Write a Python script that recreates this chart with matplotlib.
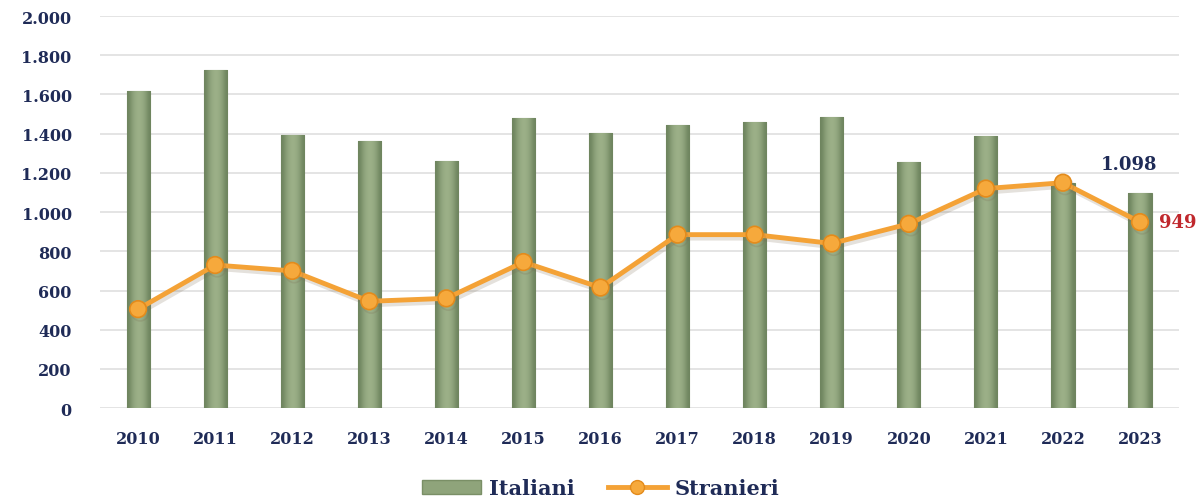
import matplotlib
matplotlib.use("Agg")
import matplotlib.pyplot as plt
import numpy as np
from matplotlib.patches import Patch
from matplotlib.lines import Line2D
import matplotlib.patheffects as pe
from matplotlib.colors import LinearSegmentedColormap

years = ["2010", "2011", "2012", "2013", "2014", "2015", "2016",
         "2017", "2018", "2019", "2020", "2021", "2022", "2023"]
italiani = [1620, 1725, 1395, 1365, 1260, 1478, 1405, 1443, 1458, 1483, 1255, 1387, 1148, 1098]
stranieri = [505, 730, 700, 545, 560, 745, 615, 885, 885, 840, 940, 1120, 1150, 949]
yticks = [0, 200, 400, 600, 800, 1000, 1200, 1400, 1600, 1800, 2000]

navy = "#1f2b57"
font = "DejaVu Serif"

fig = plt.figure(figsize=(12.02, 5.02), dpi=100)
ax = fig.add_axes([0.0828, 0.185, 0.8977, 0.781])

x = np.arange(len(years))
ax.set_xlim(-0.5, len(years) - 0.5)
ax.set_ylim(0, 2000)

for yv in yticks:
    ax.axhline(yv, color="#e2e2e2", lw=1.3, zorder=0)

bars = ax.bar(x, italiani, width=0.3, color="#8fa47b", edgecolor="#6f845f",
              lw=0.8, zorder=2)
grad = np.array([[0.0, 0.5, 0.8, 0.9, 0.8, 0.5, 0.0]])
cmap = LinearSegmentedColormap.from_list("g", ["#6e845e", "#9db189"])
for b in bars:
    bx, by = b.get_x(), b.get_y()
    w, h = b.get_width(), b.get_height()
    im = ax.imshow(grad, extent=[bx, bx + w, by, by + h], aspect="auto",
                   cmap=cmap, zorder=2, interpolation="bicubic")
    im.set_clip_path(b)

ax.plot(x, stranieri, color="#f4a236", lw=3.5, marker="o", ms=12,
        mfc="#f6a93c", mec="#e38b1c", mew=1.2, zorder=4, clip_on=False,
        path_effects=[pe.SimpleLineShadow(offset=(1.5, -2.5), shadow_color="#7a6a50", alpha=0.2),
                      pe.Normal()])

ax.set_yticks(yticks)
ax.set_yticklabels([f"{v:,}".replace(",", ".") for v in yticks])
ax.set_xticks(x)
ax.set_xticklabels(years)
ax.tick_params(axis="both", length=0, colors=navy)
ax.tick_params(axis="y", pad=20)
ax.tick_params(axis="x", pad=16)
for lab in ax.get_yticklabels() + ax.get_xticklabels():
    lab.set_fontfamily(font)
    lab.set_fontweight("bold")
    lab.set_fontsize(11.5)
    lab.set_color(navy)
for s in ax.spines.values():
    s.set_visible(False)

ax.annotate("1.098", (x[-1], italiani[-1]), xytext=(-8, 14), textcoords="offset points",
            ha="center", va="bottom", fontsize=13, fontweight="bold", color=navy,
            family=font)
ax.annotate("949", (x[-1], stranieri[-1]), xytext=(14, 0), textcoords="offset points",
            ha="left", va="center", fontsize=13, fontweight="bold", color="#c0282d",
            family=font)

handles = [Patch(facecolor="#8fa47b", edgecolor="#7a8f66"),
           Line2D([0], [0], color="#f4a236", lw=3.5, marker="o", ms=10,
                  mfc="#f6a93c", mec="#e38b1c")]
leg = fig.legend(handles, ["Italiani", "Stranieri"], loc="center",
                 bbox_to_anchor=(0.5, 0.025), ncol=2, frameon=False,
                 prop={"family": font, "weight": "bold", "size": 15},
                 handlelength=2.8, columnspacing=1.6, handletextpad=0.4)
for t in leg.get_texts():
    t.set_color(navy)

fig.savefig("out.png", dpi=100)
